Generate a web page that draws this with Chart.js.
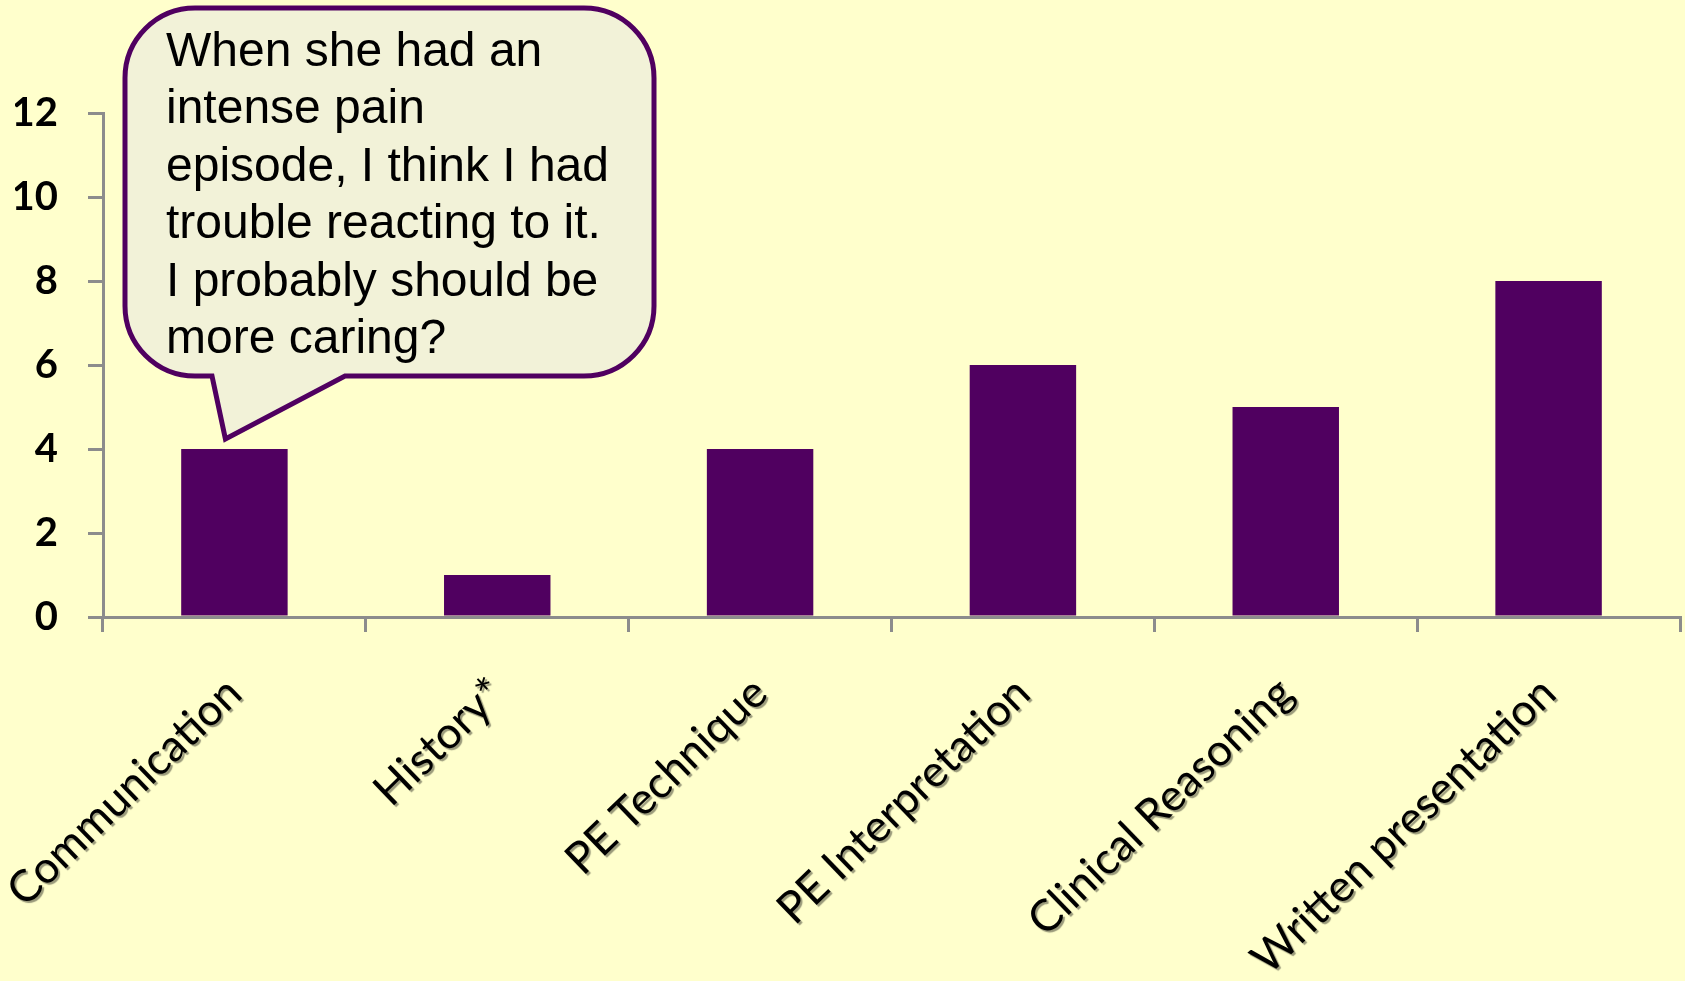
<!DOCTYPE html>
<html>
<head>
<meta charset="utf-8">
<title>Competency ratings</title>
<script src="https://cdn.jsdelivr.net/npm/chart.js@4.4.1/dist/chart.umd.min.js"></script>
<style>
  html, body { margin: 0; padding: 0; background: #FFFFCC; }
  #wrap { width: 1685px; height: 981px; }
</style>
</head>
<body>
<div id="wrap"><canvas id="chart" width="1685" height="981"></canvas></div>
<script>
const categories = ["Communication", "History*", "PE Technique", "PE Interpretation", "Clinical Reasoning", "Written presentation"];
const counts = [4, 1, 4, 6, 5, 8];
const yMin = 0;
const yMax = 12;
const yStep = 2;
const calloutLines = [
  "When she had an",
  "intense pain",
  "episode, I think I had",
  "trouble reacting to it.",
  "I probably should be",
  "more caring?"
];

const PURPLE = "#500060";
const AXIS_GREY = "#8c8c8c";

// speech bubble pointing at the Communication bar, plus a soft shadow on the x labels
const calloutPlugin = {
  id: "callout",
  afterDatasetsDraw(chart) {
    // x tick labels sit on z:1 so they are drawn right after this hook
    const ctx = chart.ctx;
    ctx.shadowColor = "rgba(0, 0, 0, 0.4)";
    ctx.shadowOffsetX = 2;
    ctx.shadowOffsetY = 2;
    ctx.shadowBlur = 1;
  },
  afterDraw(chart) {
    const ctx = chart.ctx;
    ctx.shadowColor = "transparent";
    ctx.shadowOffsetX = 0;
    ctx.shadowOffsetY = 0;
    ctx.shadowBlur = 0;

    const xs = chart.scales.x;
    const ys = chart.scales.y;
    const tipX = xs.getPixelForValue(0) - 9;
    const tipY = ys.getPixelForValue(counts[0]) - 10;

    const L = 125, T = 8, R = 654, B = 376, r = 70;
    ctx.save();
    ctx.beginPath();
    ctx.moveTo(L + r, T);
    ctx.lineTo(R - r, T);
    ctx.arcTo(R, T, R, T + r, r);
    ctx.lineTo(R, B - r);
    ctx.arcTo(R, B, R - r, B, r);
    ctx.lineTo(345, B);
    ctx.lineTo(tipX, tipY);
    ctx.lineTo(212, B);
    ctx.lineTo(L + r, B);
    ctx.arcTo(L, B, L, B - r, r);
    ctx.lineTo(L, T + r);
    ctx.arcTo(L, T, L + r, T, r);
    ctx.closePath();
    ctx.fillStyle = "#F2F2D8";
    ctx.fill();
    ctx.lineWidth = 5;
    ctx.strokeStyle = PURPLE;
    ctx.lineJoin = "miter";
    ctx.stroke();

    ctx.fillStyle = "#000";
    ctx.font = "48px 'Liberation Sans', Arial, sans-serif";
    ctx.textAlign = "left";
    ctx.textBaseline = "alphabetic";
    calloutLines.forEach((line, i) => {
      ctx.fillText(line, 166, 66 + i * 57.4);
    });
    ctx.restore();
  }
};

const ctx = document.getElementById("chart");
new Chart(ctx, {
  type: "bar",
  data: {
    labels: categories,
    datasets: [{
      data: counts,
      backgroundColor: PURPLE,
      borderWidth: 0,
      barPercentage: 0.405,
      categoryPercentage: 1
    }]
  },
  options: {
    responsive: false,
    devicePixelRatio: 1,
    animation: false,
    layout: { padding: { left: 15, top: 113, right: 5, bottom: 0 } },
    plugins: {
      legend: { display: false },
      tooltip: { enabled: false }
    },
    scales: {
      y: {
        min: yMin,
        max: yMax,
        afterFit: (scale) => { scale.width = 88; },
        ticks: {
          stepSize: yStep,
          color: "#000",
          padding: 30,
          font: { family: "Lato", size: 40, weight: "bold" }
        },
        grid: {
          drawOnChartArea: false,
          drawTicks: true,
          tickLength: 15,
          color: AXIS_GREY,
          lineWidth: 3
        },
        border: { color: AXIS_GREY, width: 3 }
      },
      x: {
        afterFit: (scale) => {
          scale.height = 364;
          // rotated labels hang left of the first tick, no extra room needed
          scale.paddingLeft = 0;
          scale.paddingRight = 0;
        },
        ticks: {
          color: "#000",
          autoSkip: false,
          minRotation: 44,
          maxRotation: 44,
          padding: 35,
          z: 1,
          font: { family: "Lato", size: 44 }
        },
        grid: {
          drawOnChartArea: false,
          drawTicks: true,
          tickLength: 15,
          color: AXIS_GREY,
          lineWidth: 3
        },
        border: { color: AXIS_GREY, width: 3 }
      }
    }
  },
  plugins: [calloutPlugin]
});
</script>
</body>
</html>
